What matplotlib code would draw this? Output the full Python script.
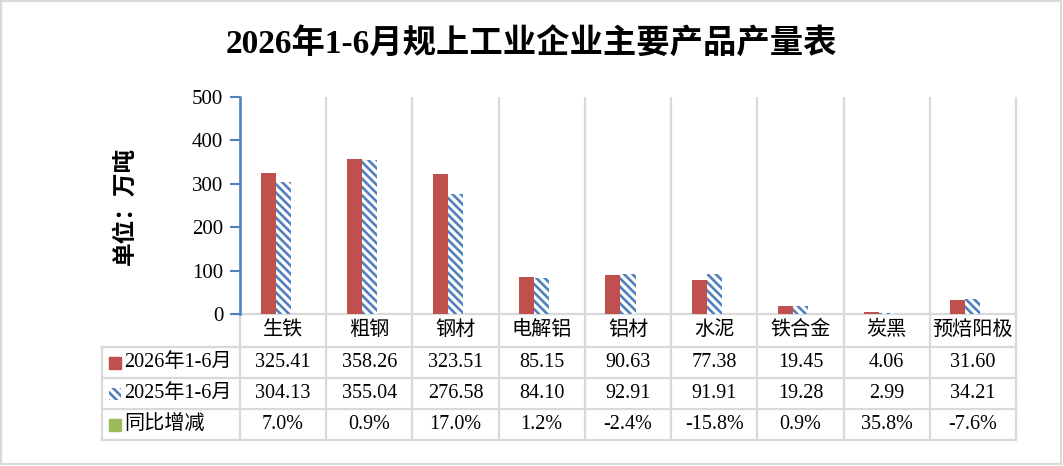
import matplotlib.pyplot as plt
import matplotlib.patches as mpatches
import numpy as np

plt.rcParams['font.family'] = ['Liberation Serif', 'Noto Sans CJK SC']
plt.rcParams['hatch.linewidth'] = 1.9
plt.rcParams['hatch.color'] = '#4F81BD'

categories = ['生铁', '粗钢', '钢材', '电解铝', '铝材', '水泥', '铁合金', '炭黑', '预焙阳极']
y2026 = [325.41, 358.26, 323.51, 85.15, 90.63, 77.38, 19.45, 4.06, 31.60]
y2025 = [304.13, 355.04, 276.58, 84.10, 92.91, 91.91, 19.28, 2.99, 34.21]
yoy = [7.0, 0.9, 17.0, 1.2, -2.4, -15.8, 0.9, 35.8, -7.6]
series_names = ['2026年1-6月', '2025年1-6月', '同比增减']
yticks = [0, 100, 200, 300, 400, 500]

W, H = 1063, 466
red, blue, green, grid = '#C0504D', '#4F81BD', '#9BBB59', '#D9D9D9'
hatch = '\\\\\\\\'

fig = plt.figure(figsize=(W / 100, H / 100), dpi=100)

# overlay in pixel coords for the table and frame
ov = fig.add_axes([0, 0, 1, 1], zorder=0)
ov.set_xlim(0, W)
ov.set_ylim(H, 0)
ov.axis('off')

x0, x1 = 240, 1016
colw = (x1 - x0) / len(categories)
top, base = 97, 314
rows = [314, 347, 378, 409, 440]
left = 102

for i in range(len(categories) + 1):
    ov.plot([x0 + i * colw] * 2, [top, rows[-1]], color=grid, lw=1.6, solid_capstyle='butt')
ov.plot([left, left], [rows[1], rows[-1]], color=grid, lw=1.6)
ov.plot([x0, x1], [rows[0], rows[0]], color=grid, lw=1.6)
for r in rows[1:]:
    ov.plot([left, x1], [r, r], color=grid, lw=1.6)
ov.add_patch(mpatches.Rectangle((1, 1), W - 3, H - 3, fill=False, ec=grid, lw=1.6))

fs = 14.5
for i, c in enumerate(categories):
    cx = x0 + (i + 0.5) * colw
    ov.text(cx, (rows[0] + rows[1]) / 2, c, ha='center', va='center', fontsize=fs)
    ov.text(cx, (rows[1] + rows[2]) / 2, f'{y2026[i]:.2f}', ha='center', va='center', fontsize=fs)
    ov.text(cx, (rows[2] + rows[3]) / 2, f'{y2025[i]:.2f}', ha='center', va='center', fontsize=fs)
    ov.text(cx, (rows[3] + rows[4]) / 2, f'{yoy[i]:.1f}%', ha='center', va='center', fontsize=fs)

styles = [dict(color=red), dict(facecolor='white', hatch=hatch, edgecolor=blue, lw=0), dict(color=green)]
for k, name in enumerate(series_names):
    cy = (rows[k + 1] + rows[k + 2]) / 2
    ov.add_patch(mpatches.Rectangle((109, cy - 6), 12, 12, **styles[k]))
    ov.text(124, cy, name, ha='left', va='center', fontsize=fs)

ov.text(W / 2, 45, '2026年1-6月规上工业企业主要产品产量表', ha='center', va='center',
        fontsize=24, fontweight='bold')

# chart
ax = fig.add_axes([x0 / W, 1 - base / H, (x1 - x0) / W, (base - top) / H], zorder=1)
ax.patch.set_alpha(0)
x = np.arange(len(categories))
w = 0.174
ax.bar(x - w, y2026, w, color=red)
ax.bar(x, y2025, w, facecolor='white', edgecolor=blue, hatch=hatch, lw=0)
ax.bar(x + w, np.array(yoy) / 100, w, color=green)
ax.set_xlim(-0.5, len(categories) - 0.5)
ax.set_ylim(0, 500)
ax.set_yticks(yticks)
ax.set_yticklabels([str(t) for t in yticks], fontsize=15)
ax.set_xticks([])
for s in ['top', 'right', 'bottom']:
    ax.spines[s].set_visible(False)
ax.spines['left'].set_color(blue)
ax.spines['left'].set_linewidth(1.8)
ax.tick_params(axis='y', length=7, width=1.5, color=blue, pad=5)
ax.set_ylabel('单位：万吨', fontsize=17, fontweight='bold', labelpad=40)

fig.savefig('out.png', dpi=100)
